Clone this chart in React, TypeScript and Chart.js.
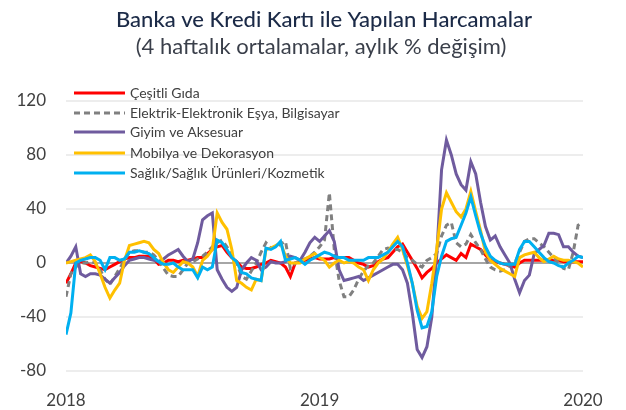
import React, { useEffect, useRef } from 'react';
import { Chart, registerables } from 'chart.js';

Chart.register(...registerables);

const chartTitle = 'Banka ve Kredi Kartı ile Yapılan Harcamalar';
const chartSubtitle = '(4 haftalık ortalamalar, aylık % değişim)';

const seriesNames = [
  'Çeşitli Gıda',
  'Elektrik-Elektronik Eşya, Bilgisayar',
  'Giyim ve Aksesuar',
  'Mobilya ve Dekorasyon',
  'Sağlık/Sağlık Ürünleri/Kozmetik',
];

const xTickLabels = ['2018', '2019', '2020'];
const xTickWeeks = [0, 52, 106];
const yTickValues = [-80, -40, 0, 40, 80, 120];

const cesitliGida = [
  -15, -8, 0, 1, 0, -2, -3, -4, -5, -3,
  -1, 1, 3, 4, 4, 5, 5, 5, 3, -1,
  0, 2, 2, 1, 2, 2, 3, 4, 4, 7,
  10, 12, 13, 8, 4, 1, -3, -4, -4, -3,
  -1, 0, 2, 1, 0, -3, -10, 0, 1, 2,
  3, 4, 3, 3, 3, 4, 4, 4, 4, 2,
  0, -1, -3, -2, 1, 3, 4, 8, 12, 14,
  8, 2, -4, -11, -7, -4, 0, 3, 6, 4,
  2, 7, 4, 14, 12, 10, 6, 2, 1, 0,
  -1, -2, -3, 0, 2, 2, 2, 2, 2, 2,
  2, 2, 1, 1, 1, 1, 1,
];

const elektrik = [
  -25, -8, -3, 0, 0, 1, 0, -5, -12, -16,
  -10, -4, 2, 8, 9, 9, 8, 8, 6, 2,
  -4, -9, -10, -10, -5, 0, 1, 3, 5, 8,
  12, 15, 17, 12, 6, 0, -10, -12, -6, 0,
  8, 15, 11, 12, 14, 16, -4, 0, 2, 3,
  5, 8, 12, 17, 52, 10, -13, -25, -25, -20,
  -12, -6, -2, 0, 5, 10, 11, 10, 10, 8,
  4, 2, -1, -3, 2, 4, 7, 20, 28, 30,
  15, 12, 14, 21, 15, 10, 3, -3, -5, -6,
  -5, -2, 0, 8, 16, 18, 18, 15, 12, 8,
  4, 0, -4, -5, 8, 28, 30,
];

const giyim = [
  0, 5, 12, -8, -10, -8, -8, -9, -12, -15,
  -11, -7, -2, 2, 3, 4, 4, 3, 2, 1,
  3, 6, 8, 10, 5, 1, 3, 15, 32, 35,
  37, -5, -12, -18, -21, -18, -5, 0, 4, 2,
  -5, -3, 1, 0, 0, 1, 5, 4, 2, 8,
  15, 19, 16, 20, 24, 16, -5, -13, -12, -11,
  -10, -13, -11, -9, -7, -5, -3, -1, -1, -5,
  -15, -37, -64, -70, -62, -40, 5, 69, 91, 80,
  66, 58, 54, 75, 66, 45, 27, 17, 20, 12,
  6, 0, -12, -22, -13, -9, 7, 10, 13, 22,
  22, 21, 12, 12, 8, 5, 4,
];

const mobilya = [
  0, 1, 2, 3, 4, 6, 1, -8, -18, -26,
  -20, -15, 2, 13, 14, 15, 16, 15, 10, 7,
  0, -5, -7, -3, 1, 0, -3, -10, 2, 5,
  10, 37, 30, 25, 10, -13, -15, -18, -20, -12,
  -13, 10, 11, 13, 15, 5, 0, 0, 0, 3,
  5, 7, 4, 2, -3, 0, 2, 0, 1, 0,
  -3, -5, -13, -5, 0, 3, 8, 14, 19, 10,
  -2, -15, -32, -41, -36, -15, 10, 40, 52, 45,
  38, 34, 40, 53, 38, 24, 8, 2, -1, -4,
  -6, -8, -10, 4, 6, 7, 8, 4, 1, 3,
  5, 3, 2, 2, 1, 0, -3,
];

const saglik = [
  -53, -37, 0, 2, 3, 4, 4, 2, -5, 4,
  4, 2, 3, 8, 8, 9, 8, 7, 4, 1,
  -1, -1, 0, -3, -5, -5, -5, -11, -3, -5,
  -3, 17, 15, 10, 4, 1, -7, -8, -11, -12,
  -13, 11, 10, 12, 16, 2, 3, 4, 2, -1,
  2, 4, 6, 8, 7, 5, 4, 4, 2, 2,
  2, 2, 4, 4, 4, 6, 8, 12, 16, 12,
  0, -15, -35, -48, -47, -36, -10, 5, 16, 18,
  19, 28, 37, 49, 35, 22, 12, 5, 2, 0,
  -1, -1, -1, 10, 16, 16, 12, 8, 4, 1,
  0, -2, -3, 0, 2, 5, 4,
];

const seriesValues = [cesitliGida, elektrik, giyim, mobilya, saglik];
const seriesColors = ['#FF0000', '#808080', '#6F5B9E', '#FFC000', '#00B0F0'];
const seriesDash = [[], [6, 4], [], [], []];

const FONT = 'Lato, "Open Sans", sans-serif';

const overlayPlugin = {
  id: 'overlay',
  afterDraw(chart: any) {
    const ctx = chart.ctx as CanvasRenderingContext2D;
    const area = chart.chartArea;
    ctx.save();
    ctx.textAlign = 'center';
    ctx.textBaseline = 'middle';
    ctx.fillStyle = '#1B2A47';
    ctx.font = `500 22px ${FONT}`;
    ctx.fillText(chartTitle, 324, 20);
    ctx.fillStyle = '#3A3F4A';
    ctx.font = `22px ${FONT}`;
    ctx.fillText(chartSubtitle, 321, 47);

    // legend
    const rowsY = [93, 113, 132, 153, 173];
    const lineX0 = area.left + 8;
    const lineX1 = area.left + 59;
    ctx.textAlign = 'left';
    ctx.font = `14px ${FONT}`;
    seriesNames.forEach((name, k) => {
      const y = rowsY[k];
      ctx.beginPath();
      ctx.strokeStyle = seriesColors[k];
      ctx.lineWidth = 3;
      ctx.setLineDash(seriesDash[k]);
      ctx.moveTo(lineX0, y);
      ctx.lineTo(lineX1, y);
      ctx.stroke();
      ctx.setLineDash([]);
      ctx.fillStyle = '#404040';
      ctx.fillText(name, lineX1 + 5, y);
    });
    ctx.restore();
  },
};

export default function App() {
  const canvasRef = useRef<HTMLCanvasElement | null>(null);

  useEffect(() => {
    const canvas = canvasRef.current;
    if (!canvas) return;
    const datasets = seriesNames.map((name, k) => ({
      label: name,
      data: seriesValues[k].map((v, i) => ({ x: i, y: v })),
      borderColor: seriesColors[k],
      backgroundColor: seriesColors[k],
      borderWidth: 3,
      borderDash: seriesDash[k],
      pointRadius: 0,
      tension: 0,
      fill: false,
      order: seriesNames.length - k,
    }));

    const chart = new Chart(canvas, {
      type: 'line',
      data: { datasets },
      options: {
        animation: false,
        responsive: false,
        layout: { padding: { left: 0, right: 43, top: 101, bottom: 0 } },
        plugins: {
          legend: { display: false },
          title: { display: false },
          tooltip: { enabled: false },
        },
        scales: {
          x: {
            type: 'linear',
            min: 0,
            max: 106,
            grid: { display: false },
            border: { display: false },
            afterBuildTicks: (scale: any) => {
              scale.ticks = xTickWeeks.map((v) => ({ value: v }));
            },
            afterFit: (scale: any) => {
              scale.height = 39;
            },
            ticks: {
              autoSkip: false,
              maxRotation: 0,
              padding: 11,
              color: '#404040',
              font: { family: FONT, size: 17 },
              callback: (value: any) => {
                const idx = xTickWeeks.indexOf(Number(value));
                return idx >= 0 ? xTickLabels[idx] : '';
              },
            },
          },
          y: {
            min: -80,
            max: 120,
            afterBuildTicks: (scale: any) => {
              scale.ticks = yTickValues.map((v) => ({ value: v }));
            },
            afterFit: (scale: any) => {
              scale.width = 66;
            },
            border: { display: false },
            grid: {
              drawTicks: false,
              color: (c: any) => (c.tick && c.tick.value === 0 ? '#A6A6A6' : '#EDEDED'),
              lineWidth: 2,
            },
            ticks: {
              padding: 20,
              color: '#404040',
              font: { family: FONT, size: 17 },
            },
          },
        },
      },
      plugins: [overlayPlugin],
    });
    return () => chart.destroy();
  }, []);

  return (
    <div style={{ position: 'fixed', left: 0, top: 0, width: 626, height: 410, background: '#fff' }}>
      <canvas ref={canvasRef} width={626} height={410} style={{ width: 626, height: 410 }} />
    </div>
  );
}
